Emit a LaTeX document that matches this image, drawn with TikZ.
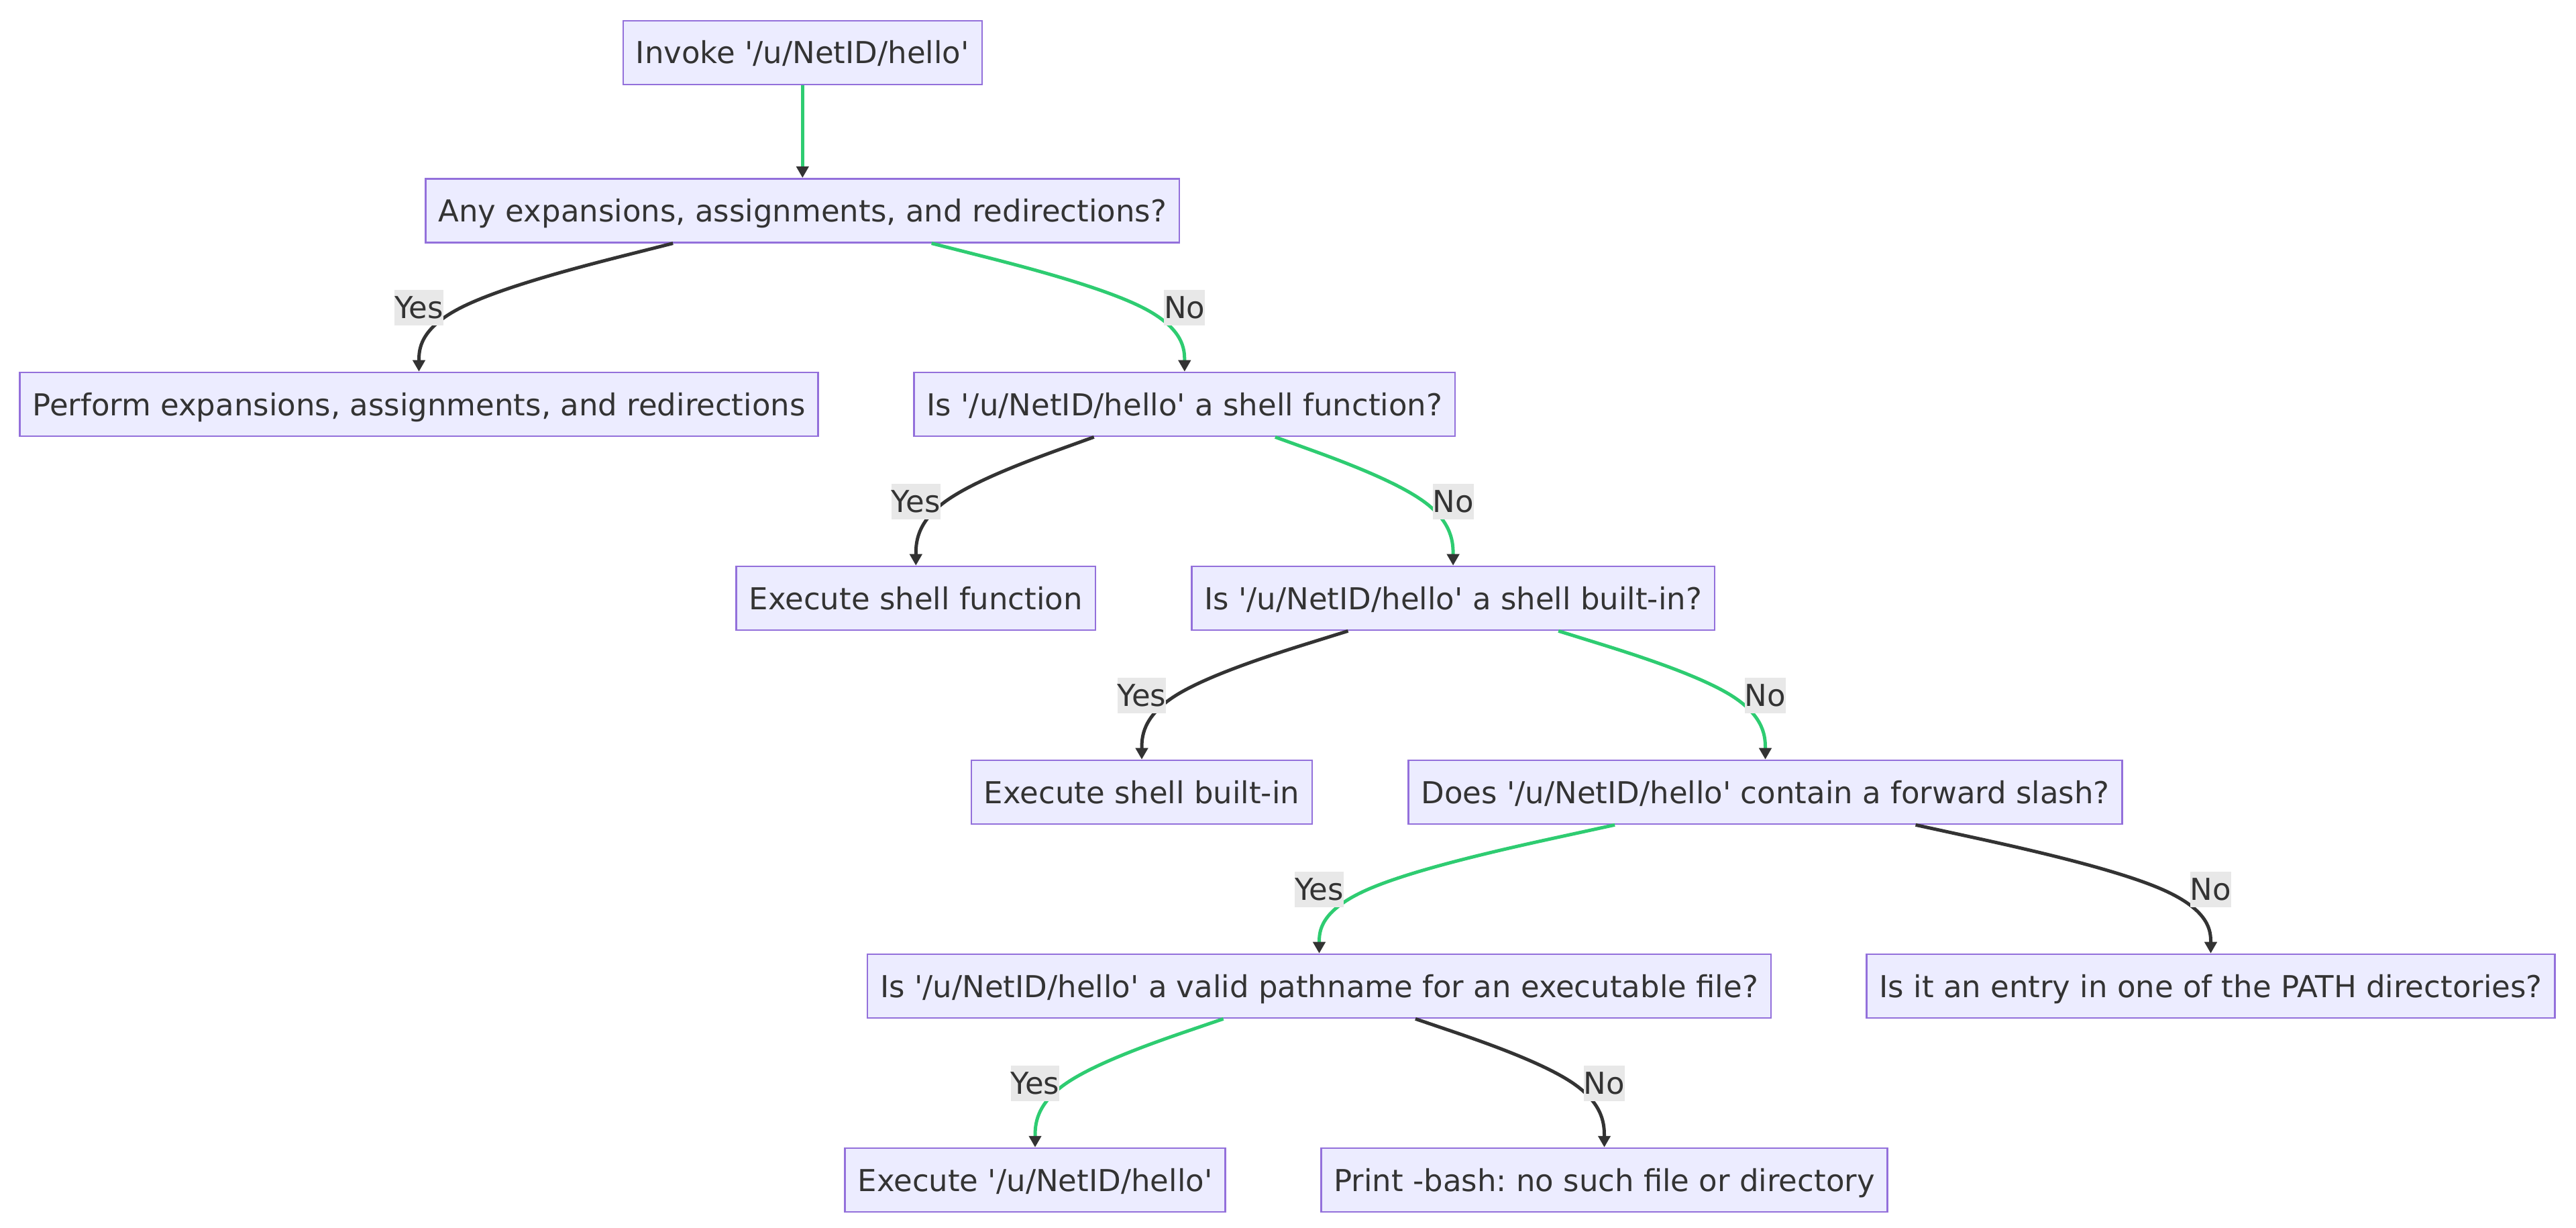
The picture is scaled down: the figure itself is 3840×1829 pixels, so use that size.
\documentclass[tikz,border=0pt]{standalone}
\usepackage{fontspec}
\setmainfont{DejaVu Sans}[Ligatures=TeXOff]
\usetikzlibrary{arrows.meta,calc}
\definecolor{boxfill}{HTML}{ECECFF}
\definecolor{boxdraw}{HTML}{9370DB}
\definecolor{txt}{HTML}{333333}
\definecolor{okgreen}{HTML}{2ECC71}
\definecolor{lblbg}{HTML}{E8E8E8}
\frenchspacing
\newcommand\flowedge[4]{%
  \coordinate (L) at ($(#2.north)!0.5!(#2.north |- #1.south)$);
  \path (#1) -- (L) coordinate[pos=0] (S);
  \coordinate (E) at (#2.north);
  \draw[edge,draw=#3] (S) -- ($(S)!1/6!(L)$)
     .. controls ($(S)!1/3!(L)$) and ($(S)!2/3!(L)$) .. ($0.16667*(S)+0.66667*(L)+0.16667*(E)$)
     .. controls ($(L)!1/3!(E)$) and ($(L)!2/3!(E)$) .. ($(L)!5/6!(E)$) -- (E);
  \node[lbl] at (L) {#4};
}
\tikzset{
  box/.style={draw=boxdraw, fill=boxfill, line width=0.025cm, text=txt,
    inner xsep=0.19cm, inner ysep=0pt, minimum height=0.95cm,
    text height=0.33cm, text depth=0pt, font=\fontsize{12.8pt}{15pt}\selectfont},
  lbl/.style={fill=lblbg, text=txt, inner xsep=0pt, inner ysep=0pt,
    minimum height=0.53cm, text height=0.33cm, text depth=0pt,
    font=\fontsize{12.8pt}{15pt}\selectfont},
  edge/.style={line width=0.05cm, -{Triangle[length=0.17cm,width=0.18cm,color=txt]}}
}
\begin{document}
\begin{tikzpicture}[x=0.01cm,y=-0.01cm]
\fill[white] (0,0) rectangle (3840,1829);
\useasboundingbox (0,0) rectangle (3840,1829);
\node[box] (n1)  at (1196.3,78.3)  {Invoke '/u/NetID/hello'};
\node[box] (n2)  at (1196.3,313.8) {Any expansions, assignments, and redirections?};
\node[box] (n3)  at (624.5,602.5)  {Perform expansions, assignments, and redirections};
\node[box] (n4)  at (1765.8,602.5) {Is '/u/NetID/hello' a shell function?};
\node[box] (n5)  at (1365.3,891.5) {Execute shell function};
\node[box] (n6)  at (2166.1,891.5) {Is '/u/NetID/hello' a shell built-in?};
\node[box] (n7)  at (1702,1180.5)  {Execute shell built-in};
\node[box] (n8)  at (2631.5,1180.5) {Does '/u/NetID/hello' contain a forward slash?};
\node[box] (n9)  at (1966.5,1469.5) {Is '/u/NetID/hello' a valid pathname for an executable file?};
\node[box] (n10) at (3295.5,1469.5) {Is it an entry in one of the PATH directories?};
\node[box] (n11) at (1543,1758.5)  {Execute '/u/NetID/hello'};
\node[box] (n12) at (2391.5,1758.5) {Print -bash: no such file or directory};
\draw[edge,draw=okgreen] (n1) -- (n2);
\flowedge{n2}{n3}{txt}{Yes}
\flowedge{n2}{n4}{okgreen}{No}
\flowedge{n4}{n5}{txt}{Yes}
\flowedge{n4}{n6}{okgreen}{No}
\flowedge{n6}{n7}{txt}{Yes}
\flowedge{n6}{n8}{okgreen}{No}
\flowedge{n8}{n9}{okgreen}{Yes}
\flowedge{n8}{n10}{txt}{No}
\flowedge{n9}{n11}{okgreen}{Yes}
\flowedge{n9}{n12}{txt}{No}
\end{tikzpicture}
\end{document}
